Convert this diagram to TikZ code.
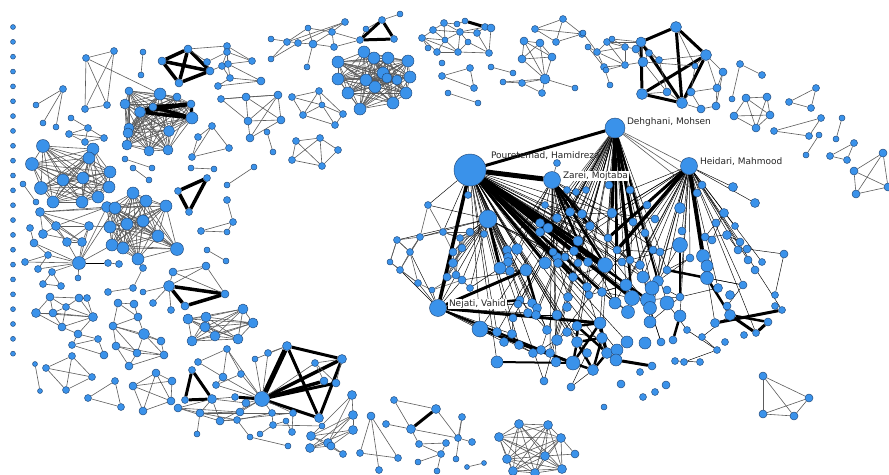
\documentclass[tikz,border=0pt]{standalone}
\usepackage{fontspec}
\newfontfamily\labfont{DejaVu Sans}
\pgfdeclarelayer{paper}
\pgfdeclarelayer{edges}
\pgfsetlayers{paper,edges,main}
\definecolor{nodeblue}{RGB}{58,146,234}
\definecolor{nodeline}{RGB}{34,72,120}
\definecolor{edgegray}{RGB}{92,92,92}
\tikzset{
  v/.style={circle,draw=nodeline,fill=nodeblue,line width=0.45pt,inner sep=0pt,minimum size=#1},
  v/.default=7,
  e/.style={draw=edgegray,line width=0.6pt},
  k/.style={draw=black,line width=0.45pt},
  h/.style={draw=black,line width=#1},
  h/.default=3,
  lab/.style={font=\labfont\fontsize{9}{10}\selectfont,text=black!85,inner sep=0.8pt,anchor=west},
}
% place a group of nodes: prefix, list of x/y/size
\newcommand\pts[2]{\foreach \px/\py/\ps [count=\k] in {#2}{\node[v=\ps] (#1\k) at (\px,\py) {};}}
% links inside a group: [style]{prefix}{pairs}
\newcommand\lnk[3][e]{\begin{pgfonlayer}{edges}\foreach \a/\b in {#3}{\draw[#1] (#2\a) -- (#2\b);}\end{pgfonlayer}}
% links between fully named nodes
\newcommand\xl[2][e]{\begin{pgfonlayer}{edges}\foreach \a/\b in {#2}{\draw[#1] (\a) -- (\b);}\end{pgfonlayer}}
% all pairs of a group
\newcommand\cliq[3][e]{\begin{pgfonlayer}{edges}\foreach \a in {1,...,#3}{\foreach \b in {1,...,#3}{\ifnum\a<\b\relax\draw[#1] (#2\a) -- (#2\b);\fi}}\end{pgfonlayer}}
% hub to a random share of a group
\newcommand\fan[6][k]{\begin{pgfonlayer}{edges}\foreach \i in {#4,...,#5}{\pgfmathtruncatemacro\ok{rnd<#6}\ifnum\ok=1 \draw[#1] (#2) -- (#3\i);\fi}\end{pgfonlayer}}
% random short links inside a group
\newcommand\nearlinks[5][k]{\begin{pgfonlayer}{edges}\foreach \i in {1,...,#3}{\foreach \rep in {1,...,#4}{%
  \pgfmathtruncatemacro\j{random(1,#3)}%
  \pgfpointdiff{\pgfpointanchor{#2\i}{center}}{\pgfpointanchor{#2\j}{center}}%
  \pgfgetlastxy\dx\dy
  \pgfmathtruncatemacro\ok{(veclen(\dx,\dy)<#5) && (\i!=\j)}%
  \ifnum\ok=1 \draw[#1] (#2\i) -- (#2\j);\fi}}\end{pgfonlayer}}

\begin{document}
\begin{tikzpicture}[x=1pt,y=-1pt]
\pgfmathsetseed{2024}
\begin{pgfonlayer}{paper}
\fill[white] (0,0) rectangle (889,474);
\end{pgfonlayer}
\useasboundingbox (0,0) rectangle (889,474);

% isolated authors
\foreach \i in {0,...,22}{\node[v=5] (dot\i) at (13,{27+14.85*\i}) {};}

% ---------- upper left ----------
\pts{ca}{86/58/7,114/51/7,85/109/7,107/105/7}
\lnk{ca}{1/2,1/3,2/4,3/4,1/4,2/3}
\pts{cb}{143/52/6,141/75/6}
\lnk{cb}{1/2}
\pts{cc}{63/89/7,36/105/6,43/123/6,56/127/6}
\lnk{cc}{1/2,1/3,1/4}
\pts{cd}{160/94/12,129/91/8,125/104/10,140/112/11,177/97/8,191/104/8,192/118/12,169/131/11,129/128/10,128/133/10,127/145/10,149/151/10,168/150/10,153/107/8}
\cliq{cd}{14}
\lnk[h=3.5]{cd}{4/6,4/7,14/6,14/7,4/14,6/7}
\xl{ca1/cd1}
\pts{ce}{162/61/8,188/49/8,210/71/8,179/83/8,207/62/7}
\lnk[h=3.5]{ce}{1/2,2/3,3/4,4/1,1/3,2/4}
\lnk{ce}{2/5,5/3}
\pts{cf}{227/46/7,227/52/7,252/61/7,222/66/7,228/64/7,230/78/7,218/86/7,261/81/8,221/99/7,246/97/8,278/95/8,248/121/8,281/120/8,250/138/8,267/132/6,273/152/6}
\lnk{cf}{1/2,1/3,2/3,2/4,2/5,4/5,5/3,1/5,4/6,5/6,6/8,6/7,7/8,5/8,9/10,9/11,10/11,9/12,10/12,11/12,11/13,12/13,10/13,12/14,13/14,11/14,15/16}
\xl{ce2/cf1,ce5/cf2,ce3/cf4}
\pts{cg}{271/39/6,287/42/7,298/43/7,271/59/6,308/28/6,313/44/8,332/32/7,334/47/7,345/22/7,307/67/6,360/40/7,366/29/6,382/20/7,394/39/7,400/14/6}
\lnk{cg}{1/3,2/5,4/3,4/2,3/6,5/6,6/7,6/8,7/8,5/7,7/11,8/11,6/10,2/9,3/9,9/7,13/15,12/13,12/11}
\lnk[h=3]{cg}{11/13,13/14,11/14}
\pts{ch}{364/52/12,338/62/12,374/58/12,388/58/12,408/61/12,383/73/12,366/80/12,338/79/12,410/77/12,375/87/12,348/93/12,406/93/12,360/109/12,393/103/12,387/78/10,397/80/10}
\cliq{ch}{16}
\pts{ci}{292/97/7,319/91/7,303/115/7,343/114/7,335/125/7,322/105/6}
\lnk{ci}{1/2,1/3,2/3,2/4,2/6,3/6,6/4,6/5,3/5,4/5,1/6}
\pts{dz}{296/141/7,320/138/7,338/150/7,292/160/7,322/166/7}
\lnk{dz}{1/2,2/3,1/4,4/5,3/5,1/5,2/4,2/5}

% ---------- upper middle ----------
\pts{cj}{444/23/7,457/24/6,465/21/6,433/30/7,460/32/7,422/38/7,477/33/7,485/27/7,491/28/8,428/48/6,437/52/7,458/52/7,489/53/7,445/40/6,468/42/6}
\lnk{cj}{1/4,1/5,1/2,2/3,4/6,4/14,6/10,6/11,6/14,14/11,14/12,14/5,5/7,5/12,5/15,15/12,15/13,7/8,8/9,9/13,7/13,12/13,4/5,1/14,11/12,5/8,6/12}
\lnk[h=3]{cj}{3/8}
\node[v=6] (ck1) at (442,63) {};
\pts{cl}{442/76/7,470/68/7,474/88/7}
\lnk{cl}{1/2,2/3,1/3}
\pts{cm}{448/93/6,478/103/6}
\lnk{cm}{1/2}
\pts{cn}{491/67/6,513/73/6}
\lnk{cn}{1/2}
\pts{co}{524/41/8,540/43/8,522/59/8,552/57/8,545/79/10,503/82/6,522/83/7,542/93/7,575/88/6}
\lnk{co}{1/2,1/3,2/3,2/4,1/4,3/4,3/5,1/5,4/5,2/5,5/6,5/7,5/8,5/9,7/8,6/7}
\pts{cp}{563/19/7,535/29/7,582/34/7,556/42/7}
\cliq{cp}{4}

% ---------- upper right ----------
\pts{cq}{583/33/6,588/47/6,597/52/7,607/42/7,612/39/6,625/47/7,604/67/7,606/70/6,625/65/7,610/85/6}
\lnk{cq}{1/3,2/3,3/4,4/5,3/6,4/6,5/6,3/7,7/9,6/9,8/9,7/10,3/9,2/7,4/9}
\pts{cr}{676/27/11,641/42/10,706/55/11,642/94/11,682/103/11,636/49/8,643/62/10,649/53/7,659/60/7,667/92/8,691/92/8,717/88/8,723/72/8,701/109/8,716/106/8,695/66/6}
\lnk[h=3]{cr}{1/2,1/3,1/5,2/4,4/5,5/3,4/3,2/5}
\lnk{cr}{2/6,2/7,6/7,7/8,8/9,2/9,9/3,7/10,10/5,5/11,11/12,12/13,13/3,3/12,5/14,14/15,15/12,11/14,3/16,16/11,4/10,9/10,1/16,7/16,13/15}
\xl{cq6/cr6,cq4/cr2,cq9/cr7,cq5/cr2}
\pts{ct}{740/64/7,762/75/7,732/99/6}
\lnk{ct}{1/2,1/3}
\pts{cu}{746/98/8,767/97/8,734/116/8,770/115/8,756/128/8}
\lnk{cu}{1/2,1/3,1/4,1/5,2/4,2/5,3/4,3/5,4/5}
\pts{cv}{789/102/7,816/88/7,811/108/7}
\lnk{cv}{1/2,1/3,2/3}
\pts{cw}{774/131/7,821/118/7,809/136/7}
\lnk{cw}{1/2,1/3,2/3}
\pts{cx}{819/135/6,806/155/6}
\lnk{cx}{1/2}
\pts{cy}{842/118/6,836/139/6}
\lnk{cy}{1/2}
\pts{cz}{830/156/7,854/143/7,847/160/7}
\lnk{cz}{1/2,1/3,2/3}
\pts{da}{883/153/8,854/171/8,856/194/8,888/187/8}
\cliq{da}{4}

% ---------- left side ----------
\pts{db}{71/118/6,88/128/7,69/134/7,104/138/7,85/142/7}
\lnk{db}{1/2,2/4,3/2,3/4,3/5,5/4,2/5}
\pts{dc}{43/146/13,93/149/12,89/158/12,32/164/13,63/180/12,83/178/12,110/172/12,41/188/13,109/187/12,53/202/12,82/202/12,98/197/12}
\cliq{dc}{12}
\pts{dd}{133/193/12,146/201/12,166/206/12,107/207/11,115/208/12,110/227/12,127/224/12,143/221/12,158/236/12,112/245/12,123/248/12,177/249/13,138/259/12}
\cliq{dd}{13}
\pts{de}{23/184/6,36/202/6,40/212/9,56/226/9,43/234/9,89/226/9,67/242/9,82/242/9,30/228/7,34/243/8,25/262/7,48/255/7,79/263/13,108/263/7,119/264/7,38/269/7,52/272/7,78/278/6,43/284/7,61/286/7}
\lnk{de}{1/2,3/4,3/5,3/6,3/7,3/8,4/5,4/6,4/7,4/8,6/8,7/8,5/8,6/7,9/10,10/12,10/13,12/13,11/12,11/13,16/13,17/13,14/15,13/18,13/8,13/7,12/16,19/20,19/17,20/17,13/6}
\lnk[k]{de}{13/14}
\xl{de3/dd4,de3/dd5,de4/dd4,de13/dd4,de13/dd5,de6/dd6,de13/dd10}
\pts{df}{143/268/7,133/288/7,108/292/7}
\lnk{df}{1/2,2/3}
\xl{dd13/df1}
\pts{dg}{50/297/8,79/298/8,87/298/7,36/313/9,53/313/8,66/307/7,62/327/8,78/334/8,93/317/9}
\lnk{dg}{1/4,1/5,1/6,1/2,2/3,2/6,2/9,3/9,4/5,4/9,5/6,5/9,6/9,4/7,5/7,7/9,7/8,8/9,6/7}
\pts{dh}{72/345/7,98/339/7,104/355/8}
\lnk{dh}{1/2,1/3,2/3}
\xl{dg8/dh1,dg8/dh2}
\pts{di}{35/364/5,40/391/5,46/368/7,72/356/7,92/377/7,66/390/7}
\lnk{di}{1/2,3/4,3/5,3/6,4/5,4/6,5/6}
\pts{dj}{88/398/7,115/381/7,121/407/7}
\lnk{dj}{1/2,1/3,2/3}
\pts{dk}{118/303/8,134/304/8,138/317/8,113/326/8,144/334/11,161/341/8,116/346/8,137/353/8,164/355/8,129/366/8}
\lnk{dk}{1/2,1/3,2/3,1/4,3/4,4/5,3/5,5/6,4/7,7/8,4/8,8/9,5/9,6/9,7/9,5/8,7/10,8/10,10/9,4/6}
\pts{dl}{133/386/8,156/373/8,172/381/8,171/401/8,143/411/8}
\lnk{dl}{1/2,1/3,1/4,1/5,2/3,2/4,2/5,3/4,4/5}
\pts{dm}{207/250/6,226/261/6}
\lnk{dm}{1/2}
\pts{dv}{212/126/7,198/137/7,229/148/7,192/157/7}
\lnk{dv}{1/2,1/3,2/4,4/3,1/4}
\pts{dw}{191/168/6,214/169/6,125/159/6,152/168/6,133/168/6,149/180/6,227/185/6,254/167/6}
\lnk{dw}{1/2,3/4,5/6,7/8}
\pts{dx}{178/191/7,207/178/7,189/212/7}
\lnk[h=3.5]{dx}{1/2,2/3,3/1}
\pts{dy}{227/200/7,233/222/7,201/231/7,227/232/6}
\lnk{dy}{1/2,2/3,2/4,3/4}

% ---------- lower left arc ----------
\pts{dn}{169/286/11,173/272/8,206/266/8,225/294/8,185/306/8,143/292/6,153/303/7,171/310/7}
\lnk[h=3.5]{dn}{1/4,4/5,5/1}
\lnk{dn}{1/2,2/3,3/4,2/4,1/6,1/7,1/8,1/3}
\pts{do}{188/319/10,206/317/10,205/327/10,243/309/10,253/323/10,192/341/10,215/336/10,238/339/10}
\cliq{do}{8}
\pts{dp}{262/399/15,287/346/9,342/359/9,319/418/9,336/383/8,324/381/8,255/359/6,268/353/7,227/349/7,198/362/7,223/377/8,241/374/7,216/385/7,192/370/7,185/400/7,212/399/9,235/397/7,246/403/8,178/408/8,200/413/8,220/421/8,240/412/8,237/420/7,272/413/7,293/413/7,315/363/7,197/434/6,250/437/6,260/434/6,273/425/7,286/421/6,292/432/7,288/446/6,322/426/6}
\lnk[h=5]{dp}{1/2}
\lnk[h=3.5]{dp}{1/3,1/6}
\lnk[h=3]{dp}{1/5,1/4,2/3,3/4,2/4,1/17,14/15,15/16,14/16}
\lnk{dp}{1/7,1/8,1/9,1/11,1/12,1/13,1/24,1/25,1/26,1/22,1/21,1/18,9/10,9/11,10/11,11/13,12/13,12/9,16/17,16/18,16/21,16/20,19/20,19/21,19/22,20/22,21/23,22/18,19/16,20/23,23/24,20/25,21/25,27/20,29/30,30/24,31/32,32/25,33/28,30/31,30/34,6/26,5/26,3/5,2/8,2/7,26/3,28/23}
\pts{dq}{352/395/9,353/415/9,353/430/9,311/436/9,310/448/9,328/443/9,331/446/8,343/454/7}
\lnk{dq}{1/4,1/6,2/4,2/5,2/6,3/4,3/5,3/7,4/6,5/7,6/8,4/8,1/2,2/3,5/6}
\pts{dr}{371/416/8,360/453/7,398/458/7,379/470/7}
\lnk{dr}{1/2,1/3,1/4,2/3}
\pts{ds}{394/400/7,436/409/9,386/424/7,411/429/9,462/417/7,458/438/7,472/442/7,419/444/7,446/443/7,441/454/7,418/462/6,437/471/6,456/459/6,467/467/5,484/463/5}
\lnk[h=3]{ds}{4/2}
\lnk{ds}{1/2,1/4,3/4,2/6,4/6,5/6,5/13,6/7,8/9,8/10,9/10,11/10,12/10,14/15,4/8}
\pts{dt}{519/424/9,548/425/9,499/437/9,561/438/9,545/456/9,507/459/9,562/469/9,513/471/9,535/473/9,575/454/8}
\cliq{dt}{9}
\lnk{dt}{4/10,5/10}
\pts{du}{763/376/8,809/398/8,763/414/8,794/416/8}
\cliq{du}{4}

% ---------- main component ----------
\node[v=32] (hp) at (470,170) {};
\node[v=20] (hd) at (615,128) {};
\node[v=17] (hh) at (689,166) {};
\node[v=17] (hz) at (552,180) {};
\node[v=18] (hb) at (488,219) {};
\node[v=17] (hn) at (438,308) {};
\pts{mc}{507/250/9,517/249/11,508/257/9,508/262/9,500/268/12,510/271/9,526/270/12,545/263/12,557/257/9,558/263/9,
565/257/8,553/252/8,540/223/9,548/228/10,540/232/9,557/218/9,570/212/9,582/214/9,590/226/9,578/241/10,
574/251/9,578/263/8,588/262/9,605/265/15,612/213/10,608/238/8,617/250/8,622/262/8,630/260/8,573/277/9,
587/287/9,589/295/8,602/292/9,615/303/12,632/298/15,628/312/13,600/323/12,577/326/10,577/342/11,557/340/11,
602/338/11,607/353/11,593/370/11,573/363/14,556/362/10,550/353/9,532/303/9,537/308/9,528/313/9,536/315/9,
557/315/10,567/307/9,568/297/9,520/300/8,518/304/8,497/332/9,512/334/9,504/342/9,519/345/9,533/353/9,
541/350/9,480/329/16,497/362/12,567/332/9,547/330/9,587/353/9,617/350/12,627/342/12,544/381/8,571/387/8,
513/318/8,733/187/9,755/203/9,724/213/9,702/185/8,697/193/8,680/208/11,716/223/8,682/231/8,727/235/9,
735/226/7,740/242/8,738/250/8,747/249/8,748/260/8,784/254/8,680/245/15,705/237/8,712/240/8,703/256/13,
707/266/12,707/278/13,690/258/8,718/288/9,730/295/9,743/285/8,755/270/8,762/262/7,775/295/7,775/306/7,
782/310/7,768/322/8,756/333/7,744/335/7,730/315/11,727/306/8,715/323/9,680/316/12,680/297/8,667/270/8,
667/290/8,658/281/11,653/250/8,655/219/8,647/205/8,645/233/8,633/222/8,630/190/8,609/185/8,640/265/9,
660/252/8,648/300/15,667/303/14,650/308/13,643/277/12,652/288/14,626/285/12,687/330/7,702/337/7,725/342/7,
717/350/7,673/340/8,661/342/8,700/362/7,684/362/7,675/361/7,652/366/8,640/372/7,666/385/8,655/392/7,
643/397/7,621/384/8,604/407/6,616/360/12,645/343/12,650/322/12,567/190/7,576/192/7,586/190/7,557/163/7,
545/205/7}
\pts{ml}{428/205/7,443/232/7,420/237/7,468/195/7,470/232/8,484/234/7,460/238/7,462/248/8,453/252/8,453/263/9,
447/277/8,456/275/8,462/280/8,470/288/7,397/240/7,410/252/7,400/270/7,418/283/7,432/290/6,390/262/6}
\lnk{ml}{1/2,1/3,2/3,3/15,15/16,16/17,15/20,20/17,17/18,16/18,18/19,3/16,2/9,2/7,7/8,8/9,9/10,10/11,11/12,12/13,10/12,8/10,13/14,5/7,5/6}
\xl[k]{hp/ml1,hp/ml4,hp/ml2,hb/ml3,hn/ml18,hn/ml19,hn/ml17,hn/ml11,hn/ml13,hn/ml12,ml1/hb,ml15/hb,ml14/mc5,ml13/mc7,ml16/hn}
\fan{hb}{ml}{5}{14}{0.8}
% thin links from the central authors
\fan{hp}{mc}{1}{71}{0.65}
\fan{hp}{mc}{120}{127}{0.5}
\fan{hd}{mc}{9}{71}{0.35}
\fan{hd}{mc}{108}{127}{0.4}
\fan{hh}{mc}{72}{127}{0.45}
\fan{hh}{mc}{17}{40}{0.3}
\fan{hz}{mc}{1}{46}{0.45}
\fan{hz}{mc}{110}{127}{0.25}
\fan{hb}{mc}{1}{12}{0.5}
\fan{hn}{mc}{47}{63}{0.45}
\xl{hd/hh,hd/mc75,hd/mc76,hz/mc150,hd/mc147,hd/mc148,hd/mc149}
\nearlinks{mc}{151}{7}{45}
\nearlinks[e]{ml}{20}{3}{40}
% strong collaborations
\xl[h=5]{hp/hz}
\xl[h=3.5]{hp/hn,hp/mc35}
\xl[h=4]{hp/mc24,hh/mc90}
\xl[h=2.5]{hp/mc14,hp/mc33,hp/mc30,hp/mc122,hp/mc10,hp/mc31,hp/mc23,hd/mc29,hd/mc27,hz/mc19,hz/mc24,hz/mc20,hn/mc54,mc7/mc48}
\xl[h=3]{hp/hd,hp/mc20,hp/mc8,hp/mc13,hp/mc21,hb/mc5,hd/mc25,hd/mc117,hh/mc26,hn/mc7,hn/mc37,mc62/mc44}
\xl[h=3.5]{hh/mc27}
\xl[h=2]{hn/mc44,mc63/mc44,hd/mc35,hd/mc112}
\lnk[h=2.5]{mc}{38/39,38/37,37/41,41/42,42/43,43/44,44/39,39/41,37/44,38/42,41/43,39/43,37/42,87/109,90/92,92/105,110/92,102/105,108/132}
\lnk[h=3]{mc}{107/101,105/103,103/102,144/137}

% author names
\node[lab] (tp) at (490,156) {Pouretemad, Hamidreza};
\node[lab] (td) at (626,122) {Dehghani, Mohsen};
\node[lab] (th) at (699,162) {Heidari, Mahmood};
\node[lab,fill=white] (tz) at (562,176) {Zarei, Mojtaba};
\node[lab,fill=white] (tn) at (448,304) {Nejati, Vahid};
\end{tikzpicture}
\end{document}
